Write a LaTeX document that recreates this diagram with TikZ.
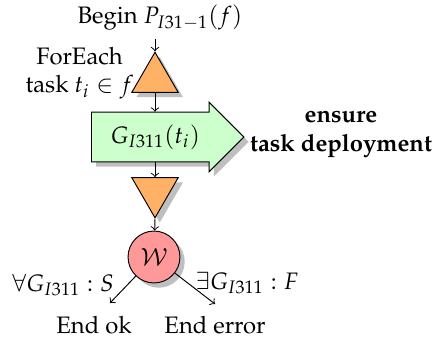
\documentclass[tikz,border=0pt]{standalone}
\usepackage[T1]{fontenc}
\usepackage{mathpazo}
\usetikzlibrary{positioning,calc,shapes.geometric,shapes.arrows,shadows}
\tikzset{shad/.style={drop shadow={fill=black!50,shadow xshift=2pt,shadow yshift=-2pt}}}
\tikzset{uptri/.style={draw,regular polygon,regular polygon sides=3,minimum size=22.5pt,inner sep=0pt,fill=orange!60,shad}}
\tikzset{downtri/.style={uptri,shape border rotate=180}}
\tikzset{goalbox/.style={draw,single arrow,single arrow head extend=4.2pt,single arrow head indent=0pt,minimum height=64pt,inner xsep=2pt,inner ysep=5pt,fill=green!20,shad}}
\tikzset{wnode/.style={draw,circle,minimum size=21.8pt,inner sep=0pt,fill=red!40,shad}}
\tikzset{>={to}}

\begin{document}
\begin{tikzpicture}[x=0.42pt,y=-0.42pt]
    \useasboundingbox (0,0) rectangle (434,340);

    \node (begin) at (160,18) {Begin $P_{I31-1}(f)$};
    \node[uptri] (foreach) at (155,79) {};
    \node[align=center,anchor=east] (forlbl) at (142,73) {ForEach\\task $t_i\in f$};

    \node[goalbox,anchor=tail] (task) at (91,137) {$G_{I311}(t_i)$};
    \node[align=center,font=\bfseries] (ensure) at (341,134) {ensure\\task deployment};

    \node[downtri] (join) at (155,191) {};
    \node[wnode] (w) at (154,257) {$\mathcal{W}$};

    \node (oklbl) at (63,285) {$\forall G_{I311}:S$};
    \node (errlbl) at (247,283) {$\exists G_{I311}:F$};

    \coordinate (okend) at (110,303);
    \coordinate (errend) at (215,304);
    \node (endok) at (94,325) {End ok};
    \node (enderr) at (215,325) {End error};

    \draw[->] (begin.south -| foreach.corner 1) -- (foreach.corner 1);
    \draw[->] (foreach.south) -- (foreach.south |- task.north);
    \draw[->] (foreach.south |- task.south) -- (join);
    \draw[->] (join.corner 1) -- (w);
    \draw[->] (w) -- (okend);
    \draw[->] (w) -- (errend);

\end{tikzpicture}
\end{document}
